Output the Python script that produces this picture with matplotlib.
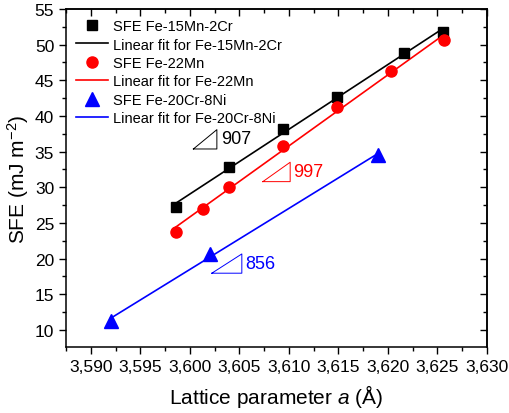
import numpy as np
import matplotlib
matplotlib.use("Agg")
import matplotlib.pyplot as plt
from matplotlib.ticker import MultipleLocator, FuncFormatter

plt.rcParams['font.family'] = ['Liberation Sans', 'DejaVu Sans']
plt.rcParams['mathtext.fontset'] = 'custom'
plt.rcParams['mathtext.rm'] = 'Liberation Sans'
plt.rcParams['mathtext.it'] = 'Liberation Sans:italic'

# Data
a_15Mn = [3.5986, 3.6040, 3.6094, 3.6149, 3.6216, 3.6256]
sfe_15Mn = [27.2, 32.85, 38.2, 42.7, 48.85, 51.8]
a_22Mn = [3.5986, 3.6013, 3.6040, 3.6094, 3.6149, 3.6203, 3.6257]
sfe_22Mn = [23.75, 26.95, 30.1, 35.85, 41.2, 46.25, 50.7]
a_20Cr = [3.5920, 3.6020, 3.6190]
sfe_20Cr = [11.3, 20.7, 34.55]
slope_labels = ['907', '997', '856']

fig = plt.figure(figsize=(5.10, 4.14), dpi=100)
ax = fig.add_axes([66/510, 1-348/414, (487-66)/510, (348-10)/414])

def fit_line(x, y):
    p = np.polyfit(x, y, 1)
    xs = np.array([min(x), max(x)])
    return xs, np.polyval(p, xs)

ms_sq, ms_c, ms_t = 7.2, 8.0, 9.5
lw = 1.2
ax.plot(a_15Mn, sfe_15Mn, 's', color='black', ms=ms_sq, ls='none', label='SFE Fe-15Mn-2Cr', zorder=3)
xs, ys = fit_line(a_15Mn, sfe_15Mn)
ax.plot(xs, ys, '-', color='black', lw=lw, label='Linear fit for Fe-15Mn-2Cr', zorder=2)
ax.plot(a_22Mn, sfe_22Mn, 'o', color='red', ms=ms_c, ls='none', label='SFE Fe-22Mn', zorder=3)
xs, ys = fit_line(a_22Mn, sfe_22Mn)
ax.plot(xs, ys, '-', color='red', lw=lw, label='Linear fit for Fe-22Mn', zorder=2)
ax.plot(a_20Cr, sfe_20Cr, '^', color='blue', ms=ms_t, ls='none', label='SFE Fe-20Cr-8Ni', zorder=3)
xs, ys = fit_line(a_20Cr, sfe_20Cr)
ax.plot(xs, ys, '-', color='blue', lw=lw, label='Linear fit for Fe-20Cr-8Ni', zorder=2)

# slope triangles
def slope_tri(x0, x1, y0, y1, color, text, tx, ty):
    ax.plot([x0, x1, x1, x0], [y0, y1, y0, y0], color=color, lw=0.7)
    ax.text(tx, ty, text, color=color, fontsize=13, va='center', ha='left')

slope_tri(3.60036, 3.60273, 35.37, 38.08, 'black', slope_labels[0], 3.60315, 36.8)
slope_tri(3.60737, 3.61013, 30.79, 33.51, 'red', slope_labels[1], 3.61045, 32.2)
slope_tri(3.60222, 3.60525, 17.95, 20.65, 'blue', slope_labels[2], 3.60560, 19.3)

ax.set_xlim(3.5875, 3.630)
ax.set_ylim(7.6, 55)
ax.xaxis.set_major_locator(MultipleLocator(0.005))
ax.xaxis.set_minor_locator(MultipleLocator(0.0025))
ax.yaxis.set_major_locator(MultipleLocator(5))
ax.yaxis.set_minor_locator(MultipleLocator(2.5))
ax.xaxis.set_major_formatter(FuncFormatter(lambda v, p: f"{v:.3f}".replace('.', ',')))
ax.yaxis.set_major_formatter(FuncFormatter(lambda v, p: f"{v:.0f}"))

for s in ax.spines.values():
    s.set_linewidth(1.1)
ax.tick_params(which='both', direction='out', width=1.0, labelsize=12.5, top=False, right=False)
ax.tick_params(which='major', length=5)
ax.tick_params(which='minor', length=3)

sec_x = ax.secondary_xaxis('top')
sec_x.xaxis.set_major_locator(MultipleLocator(0.005))
sec_x.xaxis.set_minor_locator(MultipleLocator(0.0025))
sec_x.tick_params(which='both', direction='in', labeltop=False, width=1.0)
sec_x.tick_params(which='major', length=5)
sec_x.tick_params(which='minor', length=3)
sec_y = ax.secondary_yaxis('right')
sec_y.yaxis.set_major_locator(MultipleLocator(5))
sec_y.yaxis.set_minor_locator(MultipleLocator(2.5))
sec_y.tick_params(which='both', direction='in', labelright=False, width=1.0)
sec_y.tick_params(which='major', length=5)
sec_y.tick_params(which='minor', length=3)
sec_x.spines['top'].set_linewidth(1.1)
sec_y.spines['right'].set_linewidth(1.1)

ax.set_xlabel('Lattice parameter $a$ (Å)', fontsize=15, labelpad=6)
ax.set_ylabel('SFE (mJ m$^{\\mathregular{-2}}$)', fontsize=15, labelpad=3)

ax.legend(loc='upper left', frameon=False, fontsize=10.5, handlelength=2.2,
          labelspacing=0.3, handletextpad=0.3, borderaxespad=0.3, borderpad=0.4,
          markerscale=1.0)

fig.savefig('out.png', dpi=100)
